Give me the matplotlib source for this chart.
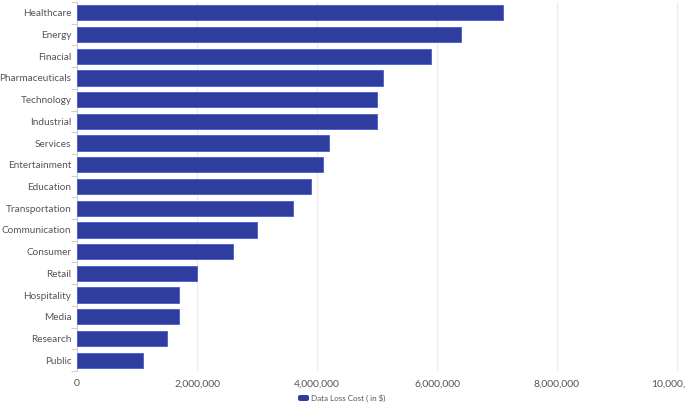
import matplotlib
matplotlib.use("Agg")
import matplotlib.pyplot as plt
from matplotlib.patches import FancyBboxPatch
from matplotlib.ticker import FuncFormatter, FixedLocator

plt.rcParams["font.family"] = ["Lato", "DejaVu Sans"]

# データ
CATEGORIES = [
    "Healthcare", "Energy", "Finacial", "Pharmaceuticals", "Technology",
    "Industrial", "Services", "Entertainment", "Education", "Transportation",
    "Communication", "Consumer", "Retail", "Hospitality", "Media",
    "Research", "Public",
]
COSTS = [
    7100000, 6400000, 5900000, 5100000, 5000000,
    5000000, 4200000, 4100000, 3900000, 3600000,
    3000000, 2600000, 2000000, 1700000, 1700000,
    1500000, 1100000,
]
X_TICKS = [0, 2000000, 4000000, 6000000, 8000000, 10000000]
SERIES_LABEL = "Data Loss Cost ( in $)"

BAR_COLOR = "#2f3e9e"
TEXT_COLOR = "#555555"
GRID_COLOR = "#ececec"

W, H = 685, 405


def main() -> None:
    fig = plt.figure(figsize=(W / 100, H / 100), dpi=100)
    fig.patch.set_facecolor("white")

    left, right = 77 / W, 1.0
    top, bottom = 1 - 2 / H, 1 - 371 / H
    ax = fig.add_axes([left, bottom, right - left, top - bottom])

    n = len(CATEGORIES)
    ys = list(range(n))
    ax.barh(ys, COSTS, height=0.7, color=BAR_COLOR, edgecolor="#4a5ad0",
            linewidth=0.6, zorder=3)

    # x 範囲: 1px = 1/60 百万
    ax.set_xlim(0, (W - 77) / 60 * 1e6)
    ax.set_ylim(n - 0.5, -0.5)

    ax.xaxis.set_major_locator(FixedLocator(X_TICKS))
    ax.xaxis.set_major_formatter(FuncFormatter(lambda v, p: f"{int(v):,}"))
    ax.set_yticks(ys)
    ax.set_yticklabels(CATEGORIES)
    ax.set_yticks([i + 0.5 for i in range(-1, n)], minor=True)

    ax.tick_params(axis="y", which="major", length=0, pad=4,
                   labelsize=7.2, labelcolor=TEXT_COLOR)
    ax.tick_params(axis="y", which="minor", length=4, color="#d0d0d0", width=0.8)
    ax.tick_params(axis="x", which="major", length=0, pad=6,
                   labelsize=7.5, labelcolor=TEXT_COLOR)

    ax.grid(axis="x", color=GRID_COLOR, linewidth=0.8, zorder=0)
    for side in ["top", "right", "bottom"]:
        ax.spines[side].set_visible(False)
    ax.spines["left"].set_color("#d0d0d0")
    ax.spines["left"].set_linewidth(0.8)

    # 凡例（下部中央）
    lx, ly = 298 / W, 1 - 398 / H
    fig.patches.append(FancyBboxPatch(
        (lx, ly - 3 / H), 11 / W, 6 / H,
        boxstyle="round,pad=0,rounding_size=0.004",
        transform=fig.transFigure, facecolor=BAR_COLOR, edgecolor="none"))
    fig.text(lx + 13 / W, ly, SERIES_LABEL, ha="left", va="center",
             fontsize=5.8, color=TEXT_COLOR)

    fig.savefig("out.png", dpi=100, facecolor="white")
    plt.close(fig)


if __name__ == "__main__":
    main()
